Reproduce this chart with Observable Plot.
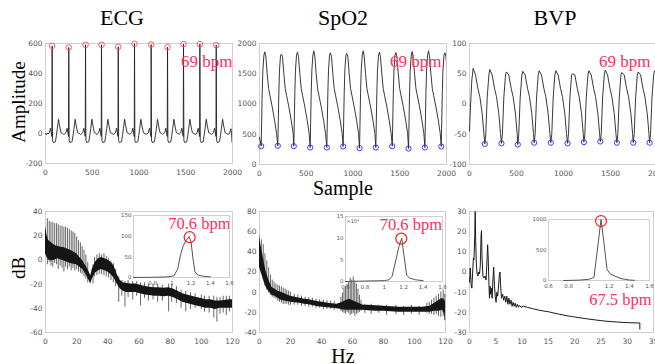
<!DOCTYPE html>
<html><head><meta charset="utf-8">
<script src="https://cdn.jsdelivr.net/npm/d3@7"></script>
<script src="https://cdn.jsdelivr.net/npm/@observablehq/plot@0.6"></script>
<style>
html,body{margin:0;padding:0;background:#fff;}
#fig{position:relative;width:655px;height:364px;overflow:hidden;background:#fff;}
#fig svg{position:absolute;overflow:visible;max-width:none;}
</style></head><body><div id="fig"></div>
<script>
// ---------------- time-domain data ----------------
const ecgR = [71, 249, 428, 599, 778, 952, 1130, 1305, 1476, 1651, 1826];
const ecgRAmp = [584, 573, 591, 591, 578, 598, 593, 576, 596, 596, 589];
const ecgHead = [[0, 0], [10, -8], [20, 4]];
const ecgTplOff = [-45, -30, -18, -10, -3, 0, 4, 12, 35, 45, 56, 68, 80, 95, 112, 125];
const ecgTplVal = [-3, 5, 35, 10, -20, "R", -45, -60, -55, -15, 35, 95, 50, 5, 0, -6];
const ecgTail = [[1968, 0], [1982, 32], [1992, -15], [1997, -60], [2000, 100]];

const spo2Min = [18, 196, 367, 542, 720, 895, 1070, 1244, 1420, 1594, 1769, 1944];
const spo2MinVal = [303, 309, 303, 281, 281, 298, 270, 281, 303, 264, 281, 298];
const spo2PeakVal = [1862, 1824, 1857, 1879, 1846, 1835, 1879, 1857, 1850, 1868, 1879, 1846];
const spo2Head = [[0, 450]];
const spo2TplOff = [0, 11, 18, 29, 39, 50, 64, 79, 93, 118, 143, 164];
const spo2TplVal = ["min", 1184, 1560, 1807, "peak", 1780, 1505, 1257, 1146, 953, 733, 512];

const bvpMin = [163, 340, 514, 688, 865, 1043, 1217, 1391, 1568, 1742, 1916];
const bvpMinVal = [-66, -65, -67, -64, -64, -65, -63, -62, -64, -64, -64];
const bvpPeakVal = [57, 53, 54, 55, 55, 50, 55, 56, 52, 53, 55];
const bvpHead = [[0, -45], [10, -5], [25, 40], [39, 59], [64, 48], [89, 26], [110, 12], [135, -16], [153, -49]];
const bvpTplOff = [0, 10, 25, 43, 53, 78, 103, 124, 149, 167];
const bvpTplVal = ["min", -50, 10, 48, "peak", 48, 26, 12, -16, -49];

// ---------------- spectra ----------------
const ecgSpecHz = [0, 1, 2, 4, 6, 8, 10, 12, 14, 16, 18, 20, 22, 24, 26, 28, 29, 30, 32, 34, 36, 38, 40, 42, 44, 46, 48, 50, 52, 55, 58, 61, 64, 67, 70, 73, 76, 79, 82, 85, 88, 91, 94, 97, 100, 103, 106, 109, 112, 115, 118, 120];
const ecgSpecHi = [28, 20, 16, 14, 12, 11, 10.5, 10, 9, 8, 6.5, 5, 2, -1, -5, -10, -13, -8, -2, 1, 2, 1, 0, -2, -5, -12, -17, -19, -19.5, -20, -20, -21, -22, -22.5, -23, -23, -23.5, -23, -24, -26, -28, -29, -30, -31, -32, -33, -33, -34, -34, -33.5, -33, -33];
const ecgSpecLo = [5, 2, 0, -1, 0, 1, 0, -1, -2, -3, -3.5, -4, -6, -8, -12, -17, -20, -16, -11, -9, -8, -9, -10, -12, -15, -20, -24, -26, -27, -27, -27, -28, -29, -29.5, -30, -30, -30.5, -30, -31, -33, -35, -36, -37, -38, -39, -40, -40, -41, -40, -40, -40, -40];
const ecgSpikeHz = [1.2, 2.4, 3.5, 4.7, 5.9, 7.1, 8.2, 9.4, 10.6, 11.8, 12.9, 14.1, 15.3, 16.5, 17.6, 18.8, 20.0, 21.2, 22.4, 23.5, 24.7, 25.9, 27.1,
  30.5, 31.5, 33, 34.5, 36, 37.5, 39, 40.5, 42, 43.5, 45, 47, 49, 51, 53, 56, 58.5, 61, 63.5, 66, 69, 72, 75, 79, 81, 84, 87, 90, 93, 96, 100, 102, 105, 108, 110, 112, 114, 116, 118];
const ecgSpikeHi = [34, 32, 31, 31, 30, 30, 29, 28, 28, 27, 27, 26, 25, 24, 23, 22, 19, 16, 14, 11, 8, 4, -2,
  -4, 2, 4, 5, 4, 5, 3, 1, -1, -3, -8, -14, -17, -18, -17, -18, -18, -19, -19, -20, -20, -20, -21, -20, -20, -22, -25, -26, -27, -28, -29, -30, -30, -30, -31, -31, -30, -30, -30];
const ecgSpikeLo = [-4, -2, -5, -6, -3, -4, -8, -5, -7, -10, -6, -8, -6, -9, -7, -9, -8, -10, -11, -12, -14, -16, -19,
  -20, -14, -13, -12, -12, -13, -14, -15, -17, -19, -22, -35, -30, -39, -31, -33, -30, -38, -32, -34, -33, -35, -34, -43, -35, -36, -40, -43, -41, -40, -41, -43, -44, -48, -51.5, -45, -44, -46, -43];

const spo2SpecHz = [0, 0.5, 1, 2, 3, 4, 5, 6, 8, 10, 12, 14, 17, 20, 23, 26, 29, 32, 35, 38, 41, 44, 47, 50, 52, 55, 58, 61, 64, 67, 70, 75, 80, 85, 90, 95, 100, 105, 110, 113, 116, 118, 119.5, 120];
const spo2SpecHi = [58, 50, 46, 38, 30, 22, 17, 12, 5, 3, 1, 0, -2, -4, -5, -6, -7, -7.5, -8.5, -9.5, -10, -11, -11.5, -12, -11, -9, -7, -9, -11, -13, -13, -13.5, -14, -14.5, -15, -15, -15, -15, -14, -11, -8, -6, -8, -10];
const spo2SpecLo = [25, 22, 20, 15, 10, 6, 3, 1, -3, -4, -6, -8, -9, -10, -10.5, -11, -12, -12.5, -13.5, -14.5, -15, -15.5, -16, -16.5, -17, -18, -18, -18, -18, -18, -18.5, -19, -19, -19.5, -20, -20, -20, -20, -20, -19, -19, -18, -22, -30];
const spo2SpikeHz = [1.2, 2.4, 3.5, 4.7, 5.9, 7.1, 8.2, 9.4, 10.6, 11.8, 12.9, 14.1, 15.3, 16.5, 17.6, 18.8, 20, 22.4, 24.7, 27.1, 29.4, 31.8, 34.1, 36.5, 38.8, 41.2, 43.5, 45.9, 48.2,
  52.5, 53.5, 54.5, 55.5, 56.5, 57.5, 58.5, 59.5, 60.5, 61.5, 62.5, 63.5, 64.5, 65.5,
  68, 72, 77, 82, 88, 93, 98, 103, 108, 109.5, 111, 112.5, 114, 115.5, 117, 118.5, 119.5];
const spo2SpikeHi = [52, 47, 38, 31, 24, 17, 12, 10, 8, 7, 6, 5, 4, 3, 2, 1, 0, -2, -3, -4, -5, -5.5, -6, -7, -7.5, -8, -8.5, -9, -9.5,
  -5, -1, 3, 6, 8, 10, 14, 12, 15, 11, 8, 3, -3, -8,
  -12, -12, -13, -13, -13, -14, -13, -14, -11, -10, -8, -6, -4, -2, 0, 2, -2];
const spo2SpikeLo = [18, 12, 6, 2, -1, -3, -5, -6, -7, -9, -10, -11, -12, -12, -12, -13, -13, -13, -13, -14, -14, -15, -15, -16, -16, -17, -17, -17, -18,
  -19, -20, -21, -22, -20, -21, -23, -22, -21, -24, -22, -21, -20, -19,
  -21, -22, -21, -23, -22, -23, -22, -23, -21, -22, -22, -23, -22, -24, -25, -24, -28];

const bvpSpecHz = [0, 0.15, 0.3, 0.45, 0.6, 0.75, 0.85, 1.0, 1.08, 1.18, 1.3, 1.45, 1.6, 1.75, 1.9, 2.05, 2.2, 2.28, 2.38, 2.55, 2.75, 2.95, 3.15, 3.3, 3.45, 3.55, 3.7, 3.8, 3.9, 4.0, 4.15, 4.3, 4.45, 4.6, 4.75, 4.9, 5.05, 5.2, 5.35, 5.5, 5.7, 5.8, 5.95, 6.1, 6.3, 6.5, 6.7, 6.9, 7.1, 7.3, 7.5, 7.7, 7.9, 8.1, 8.3, 8.5, 8.7, 8.9, 9.1, 9.3, 9.5, 9.8, 10.2, 11, 12, 13, 14, 15, 16, 17, 18, 19, 20, 22, 24, 25, 26, 28, 30, 32.4, 32.4];
const bvpSpecDb = [-5, 2, -6, -8, 0, 7, 6, 18, 30, 15, 4, -1, -2, 0, -1, 3, 18, 20.5, 8, -2, -3, -2, -4, 4, 13.5, 8, -6, -13, -7, -11, -8, -13, -4, 2.4, -7, -12, -15, -10, -12, -8, -1, 0, -8, -13, -11, -14, -12, -15, -12, -16, -13, -16, -14, -17, -15, -17, -15.5, -17.5, -16, -17.5, -16.5, -17.5, -17, -17.5, -18.2, -18.8, -19.3, -19.7, -20.3, -20.9, -21.4, -21.9, -22.3, -23.1, -23.8, -24.1, -24.4, -24.8, -25.1, -25.3, -28.3];

// insets
const ecgInsetHz = [0.6, 0.8, 0.95, 1.02, 1.06, 1.09, 1.12, 1.15, 1.18, 1.2, 1.22, 1.24, 1.27, 1.33, 1.4];
const ecgInsetVal = [0, 0.5, 1.5, 4, 20, 55, 78, 90, 99, 85, 45, 14, 6, 3, 1.5];
const spo2InsetHz = [0.6, 0.8, 1.0, 1.05, 1.08, 1.12, 1.15, 1.18, 1.2, 1.23, 1.26, 1.32, 1.4];
const spo2InsetVal = [0, 0.1, 0.2, 0.4, 1.2, 5, 8, 10, 6.5, 1.5, 0.8, 0.4, 0.2];
const bvpInsetHz = [0.75, 0.9, 1.0, 1.05, 1.08, 1.12, 1.15, 1.18, 1.21, 1.26, 1.32, 1.4, 1.45];
const bvpInsetVal = [0, 5, 20, 50, 450, 1000, 600, 180, 110, 70, 30, 8, 3];
const ecgInsetPeak = [1.185, 97.5];
const spo2InsetPeak = [1.175, 9.9];
const bvpInsetPeak = [1.12, 975];

const titles = ["ECG", "SpO2", "BVP"];
const bpmTop = ["69 bpm", "69 bpm", "69 bpm"];
const bpmSpec = ["70.6 bpm", "70.6 bpm", "67.5 bpm"];

// ---------------- builders ----------------
function beats(head, pos, mins, peaks, off, val, tail) {
  const pts = head.map(([s, v]) => ({s, v}));
  pos.forEach((p, i) => off.forEach((o, j) => {
    const t = val[j];
    const v = (t === "min" || t === "R") ? mins[i] : t === "peak" ? peaks[i] : t;
    pts.push({s: p + o, v});
  }));
  (tail || []).forEach(([s, v]) => pts.push({s, v}));
  return pts.sort((a, b) => a.s - b.s);
}
const ecgPts = beats(ecgHead, ecgR, ecgRAmp, null, ecgTplOff, ecgTplVal, ecgTail);
const spo2Pts = beats(spo2Head, spo2Min, spo2MinVal, spo2PeakVal, spo2TplOff, spo2TplVal);
const bvpPts = beats(bvpHead, bvpMin, bvpMinVal, bvpPeakVal, bvpTplOff, bvpTplVal);
const zip3 = (a, b, c) => a.map((h, i) => ({hz: h, hi: b[i], lo: c[i]}));
const zip2 = (a, b) => a.map((x, i) => ({x, y: b[i]}));

const fig = document.getElementById("fig");
const SERIF = "'Liberation Serif','Times New Roman',serif";
const PINK = "#ff2d5f";

function panel(o) {
  const [x0, x1, y0, y1] = o.box;
  const mL = 40, mT = 14, mR = o.mR ?? 14, mB = 24;
  const fs = o.fs || 7.5;
  const p = Plot.plot({
    width: x1 - x0 + mL + mR, height: y1 - y0 + mT + mB,
    marginLeft: mL, marginRight: mR, marginTop: mT, marginBottom: mB,
    x: {domain: o.xd}, y: {domain: o.yd},
    style: {background: "transparent", fontFamily: "'DejaVu Sans',sans-serif", fontSize: fs + "px", color: "#555", overflow: "visible"},
    marks: [
      Plot.frame({stroke: "#cfcfcf"}),
      ...o.marks,
      Plot.axisX({ticks: o.xt, tickSize: 0, tickPadding: o.xpad ?? 6, tickFormat: d => String(d), fontSize: fs, label: null}),
      Plot.axisY({ticks: o.yt, tickSize: 0, tickPadding: o.ypad ?? 3, tickFormat: d => String(d), fontSize: fs, label: null}),
      ...(o.top || [])
    ]
  });
  p.style.position = "absolute";
  p.style.left = (x0 - mL) + "px";
  p.style.top = (y0 - mT) + "px";
  fig.appendChild(p);
  return p;
}
const bpmText = (txt, dx, dy, fs) => Plot.text([txt], {frameAnchor: "top-right", textAnchor: "end", lineAnchor: "middle", dx, dy, fill: PINK, fontSize: fs, fontFamily: SERIF});

// top row
panel({box: [45, 232, 43, 163], xd: [0, 2000], yd: [-200, 600], xt: [0, 500, 1000, 1500, 2000], yt: [-200, 0, 200, 400, 600],
  marks: [Plot.line(ecgPts, {x: "s", y: "v", stroke: "#222", strokeWidth: 0.9, clip: true}),
          Plot.dot(ecgR.map((s, i) => ({s, v: ecgRAmp[i]})), {x: "s", y: "v", r: 2.8, stroke: "#ff5c5c", strokeWidth: 1}),
          bpmText(bpmTop[0], 0, 18, 17)]});
panel({box: [259, 446, 43, 164], xd: [0, 2000], yd: [0, 2000], xt: [0, 500, 1000, 1500, 2000], yt: [0, 500, 1000, 1500, 2000],
  marks: [Plot.line(spo2Pts, {x: "s", y: "v", stroke: "#222", strokeWidth: 0.9, clip: true}),
          Plot.dot(spo2Min.map((s, i) => ({s, v: spo2MinVal[i]})), {x: "s", y: "v", r: 2.6, stroke: "#3a3aff", strokeWidth: 1}),
          bpmText(bpmTop[1], -5, 18, 17)]});
panel({box: [469, 657, 43, 164], mR: 0, xd: [0, 2000], yd: [-100, 100], xt: [0, 500, 1000, 1500, 2000], yt: [-100, -50, 0, 50, 100],
  marks: [Plot.line(bvpPts, {x: "s", y: "v", stroke: "#222", strokeWidth: 0.9, clip: true}),
          Plot.dot(bvpMin.map((s, i) => ({s, v: bvpMinVal[i]})), {x: "s", y: "v", r: 2.6, stroke: "#3a3aff", strokeWidth: 1}),
          bpmText(bpmTop[2], -7, 18, 17)]});

// bottom row
panel({box: [45, 232, 211, 332], xd: [0, 120], yd: [-60, 40], xt: [0, 20, 40, 60, 80, 100, 120], yt: [-60, -40, -20, 0, 20, 40],
  marks: [Plot.ruleX(zip3(ecgSpikeHz, ecgSpikeHi, ecgSpikeLo), {x: "hz", y1: "lo", y2: "hi", stroke: "#555", strokeWidth: 0.9}),
          Plot.areaY(zip3(ecgSpecHz, ecgSpecHi, ecgSpecLo), {x: "hz", y1: "lo", y2: "hi", fill: "#151515"}),
          bpmText(bpmSpec[0], -2, 12.5, 16.5)]});
panel({box: [259, 445, 211, 332], xd: [0, 120], yd: [-40, 80], xt: [0, 20, 40, 60, 80, 100, 120], yt: [-40, -20, 0, 20, 40, 60, 80],
  marks: [Plot.ruleX(zip3(spo2SpikeHz, spo2SpikeHi, spo2SpikeLo), {x: "hz", y1: "lo", y2: "hi", stroke: "#555", strokeWidth: 0.9}),
          Plot.areaY(zip3(spo2SpecHz, spo2SpecHi, spo2SpecLo), {x: "hz", y1: "lo", y2: "hi", fill: "#151515"}),
          bpmText(bpmSpec[1], -3.5, 13, 16.5)]});
panel({box: [469, 653, 211, 332], mR: 2, xd: [0, 35], yd: [-30, 30], xt: [0, 5, 10, 15, 20, 25, 30, 35], yt: [-30, -20, -10, 0, 10, 20, 30],
  marks: [Plot.line(zip2(bvpSpecHz, bvpSpecDb), {x: "x", y: "y", stroke: "#1a1a1a", strokeWidth: 1}),
          bpmText(bpmSpec[2], -2, 88.5, 16.5)]});

// insets
const insetMarks = (hz, val, peak) => [
  Plot.line(zip2(hz, val), {x: "x", y: "y", stroke: "#555", strokeWidth: 1}),
  Plot.dot([{x: peak[0], y: peak[1]}], {x: "x", y: "y", r: 5.5, stroke: "#ee2020", strokeWidth: 1.2})
];
panel({box: [133, 229, 215, 277], xd: [0.6, 1.6], yd: [0, 150], xt: [0.8, 1, 1.2, 1.4, 1.6], yt: [0, 50, 100, 150], fs: 5.5, xpad: 4, ypad: 2,
  marks: insetMarks(ecgInsetHz, ecgInsetVal, ecgInsetPeak)});
panel({box: [345, 442, 216, 281], xd: [0.6, 1.6], yd: [0, 15], xt: [0.6, 0.8, 1, 1.2, 1.4, 1.6], yt: [0, 5, 10, 15], fs: 5.5, xpad: 4, ypad: 2,
  marks: insetMarks(spo2InsetHz, spo2InsetVal, spo2InsetPeak),
  top: [Plot.text(["×10⁴"], {frameAnchor: "top-left", textAnchor: "start", dx: 1, dy: 3, fontSize: 5, fill: "#555"})]});
panel({box: [548, 649, 219, 280], mR: 4, xd: [0.6, 1.6], yd: [0, 1000], xt: [0.6, 0.8, 1, 1.2, 1.4, 1.6], yt: [0, 500, 1000], fs: 5.5, xpad: 4, ypad: 2,
  marks: insetMarks(bvpInsetHz, bvpInsetVal, bvpInsetPeak)});

// titles and axis labels
const ov = d3.create("svg").attr("width", 655).attr("height", 364)
  .style("left", "0px").style("top", "0px").style("pointer-events", "none")
  .attr("font-family", SERIF).attr("fill", "#000");
const titleX = [122, 343, 555];
titles.forEach((t, i) => ov.append("text").attr("x", titleX[i]).attr("y", 25).attr("text-anchor", "middle").attr("font-size", 22).text(t));
ov.append("text").attr("x", 343).attr("y", 195).attr("text-anchor", "middle").attr("font-size", 20).text("Sample");
ov.append("text").attr("x", 343).attr("y", 363).attr("text-anchor", "middle").attr("font-size", 20).text("Hz");
ov.append("text").attr("transform", "translate(25,102) rotate(-90)").attr("text-anchor", "middle").attr("font-size", 19).text("Amplitude");
ov.append("text").attr("transform", "translate(25,268) rotate(-90)").attr("text-anchor", "middle").attr("font-size", 19).text("dB");
fig.appendChild(ov.node());
</script></body></html>
